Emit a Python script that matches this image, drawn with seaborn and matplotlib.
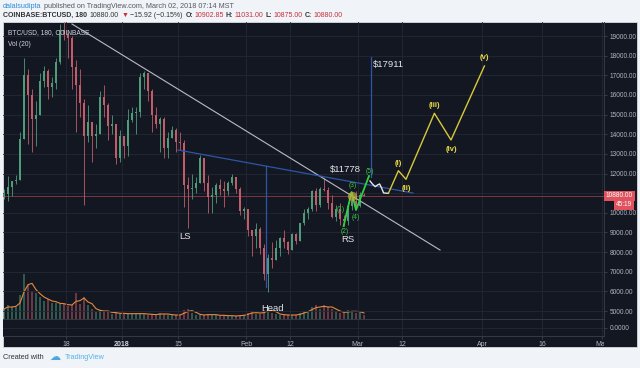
import numpy as np
import pandas as pd
import matplotlib
matplotlib.use("Agg")
import matplotlib.pyplot as plt
import seaborn as sns
from matplotlib.patches import Rectangle
from matplotlib.transforms import Bbox, TransformedBbox

# daily candles, Dec 2 2017 - Mar 2 2018
days = pd.date_range("2017-12-02", "2018-03-02", freq="D")
opens = [10860, 10960, 11290, 11600, 11690, 13760, 17000, 16000, 14800, 15000,
         16700, 17200, 16400, 16600, 17700, 19300, 19100, 18900, 17400, 16500,
         15600, 13900, 14600, 13900, 14000, 15900, 15500, 14400, 14500, 12800,
         13900, 13400, 14700, 15100, 15150, 16900, 17100, 16200, 15000, 14500,
         14800, 13300, 13800, 14200, 13600, 13550, 11400, 11200, 11250, 11500,
         12800, 11500, 10800, 10900, 11400, 11200, 11100, 11500, 11800, 11200,
         10100, 10200, 9100, 8800, 9200, 8200, 6900, 7700, 7600, 8200,
         8700, 8500, 8100, 8900, 8550, 9500, 10000, 10200, 11100, 10400,
         11200, 11150, 10500, 9800, 10200, 9700, 9600, 10350, 10600, 10350,
         10900]
highs = [11190, 11850, 11620, 11900, 14100, 17900, 17300, 16300, 15700, 17100,
         17500, 17300, 16900, 17900, 19600, 19900, 19200, 19000, 17800, 17300,
         15800, 15500, 14600, 14500, 16200, 16500, 15600, 15000, 14500, 14200,
         13900, 15300, 15400, 15400, 17100, 17200, 17100, 16300, 15400, 14900,
         14900, 14100, 14400, 14300, 14100, 13700, 11800, 12000, 11800, 12950,
         12800, 11900, 11300, 11500, 11700, 11600, 11600, 12000, 11800, 11300,
         10300, 10200, 9100, 9500, 9300, 8400, 7900, 8500, 8600, 8750,
         9100, 8550, 8950, 8950, 9500, 10200, 10300, 11150, 11250, 11300,
         11778, 11300, 10900, 10400, 10500, 9900, 10450, 10900, 11100, 11050,
         11031]
lows = [10700, 10600, 10850, 11450, 11690, 13760, 13500, 13100, 13400, 15000,
        16400, 15800, 15900, 16300, 17600, 18800, 17900, 16300, 14100, 14900,
        10400, 13600, 12600, 13300, 14000, 14900, 13700, 14000, 12500, 12600,
        12800, 12900, 14600, 14000, 14900, 16300, 15700, 14100, 14300, 13100,
        12800, 12800, 13800, 13100, 13200, 10300, 9250, 10700, 11000, 11500,
        11100, 10000, 10000, 10500, 10900, 10300, 10900, 11400, 11000, 9900,
        9700, 8800, 7800, 8200, 7900, 6600, 5950, 7200, 7600, 7800,
        8200, 7900, 8100, 8400, 8550, 9400, 9700, 10100, 10100, 10300,
        11100, 10200, 9750, 9600, 9400, 9350, 9400, 10150, 10300, 10300,
        10875]
closes = [10960, 11290, 11600, 11690, 13760, 17000, 16000, 14800, 15000, 16700,
          17200, 16400, 16600, 17700, 19300, 19100, 18900, 17400, 16500, 15600,
          13900, 14600, 13900, 14000, 15900, 15500, 14400, 14500, 12800, 13900,
          13400, 14700, 15100, 15150, 16900, 17100, 16200, 15000, 14500, 14800,
          13300, 13800, 14200, 13600, 13550, 11400, 11200, 11250, 11500, 12800,
          11500, 10800, 10900, 11400, 11200, 11100, 11500, 11800, 11200, 10100,
          10200, 9100, 8800, 9200, 8200, 6900, 7700, 7600, 8200, 8700,
          8500, 8100, 8900, 8550, 9500, 10000, 10200, 11100, 10400, 11200,
          11150, 10500, 9800, 10200, 9700, 9600, 10350, 10600, 10350, 10900,
          10880]
volume = [10, 14, 12, 12, 24, 45, 34, 28, 26, 22, 18, 20, 16, 16, 15, 15, 13, 14,
          26, 15, 22, 14, 10, 7, 9, 8, 7, 5, 7, 5,
          5, 6, 5, 5, 6, 5, 4, 5, 4, 6, 5, 4, 4, 4, 4, 9, 10, 6, 4, 4, 4, 5,
          4, 4, 3, 4, 3, 3, 3, 4, 4,
          6, 8, 5, 5, 9, 11, 6, 5, 4, 4, 4, 4, 4, 6, 8, 8, 12, 14, 10, 14,
          12, 10, 8, 6, 6, 9, 8, 6, 8, 4]

# drawings, x as days after Jan 1 2018
resist_x = [-12.5, 79.5]
resist_y = [19613, 8106]
neck_x = [14.0, 72.75]
neck_y = [13198, 11008]
head_x = [36.0, 36.0]
head_y = [12378, 6200]
target_x = [62.25, 62.25]
target_y = [11823, 17911]
green_x = [55.4, 57.4, 58.5, 61.75]
green_y = [9328, 11059, 10143, 11874]
squig_x = [62.0, 62.6, 63.3, 63.9, 64.4, 64.9, 65.4, 66.6]
squig_y = [11619, 11470, 11330, 11420, 11470, 11260, 11010, 10993]
yellow_x = [66.6, 69.1, 71.0, 78.1, 82.25, 90.6]
yellow_y = [10993, 12144, 11706, 15066, 13707, 17475]
green_labels = ["(1)", "(2)", "(3)", "(4)", "(5)"]
green_lx = [54.75, 55.75, 57.7, 58.5, 62.0]
green_ly = [10193, 9073, 11415, 9786, 12128]
yellow_labels = ["(i)", "(ii)", "(iii)", "(iv)", "(v)"]
yellow_lx = [69.1, 71.0, 78.1, 82.25, 90.6]
yellow_ly = [12520, 11247, 15453, 13233, 17918]

tick_dates = ["2017-12-18", "2018-01-01", "2018-01-15", "2018-02-01", "2018-02-12",
              "2018-03-01", "2018-03-12", "2018-04-01", "2018-04-16", "2018-05-01"]
tick_text = ["18", "2018", "15", "Feb", "12", "Mar", "12", "Apr", "16", "May"]
price_ticks = list(range(5000, 19001, 1000))

jan1 = pd.Timestamp("2018-01-01")


def d(x):
    return jan1 + pd.to_timedelta(np.array(x, dtype=float), unit="D")


plt.rcParams["font.family"] = ["Liberation Sans", "DejaVu Sans"]
BG = "#131722"
GRID = "#242835"
TXT = "#b2b5be"
UP, DOWN = "#4f9c7b", "#c25c69"

fig = plt.figure(figsize=(6.4, 3.68), dpi=100, facecolor="#f0f3f7")
fig.add_artist(Rectangle((3 / 640, 1 - 347 / 368), 634 / 640, 325 / 368,
                         transform=fig.transFigure, facecolor=BG, edgecolor="#d6d9de",
                         lw=0.6, zorder=0))

ax = fig.add_axes([3 / 640, 1 - 319 / 368, 601 / 640, 297 / 368])
pax = fig.add_axes([3 / 640, 1 - 336 / 368, 601 / 640, 17 / 368], sharex=ax)
vax = ax.twinx()
for a in (ax, pax):
    a.set_facecolor(BG)
    for s in a.spines.values():
        s.set_color("#363a45")
        s.set_linewidth(0.7)
    a.spines["top"].set_visible(False)
    a.spines["left"].set_visible(False)
ax.set_zorder(vax.get_zorder() + 1)
ax.patch.set_visible(False)
vax.set_facecolor(BG)
vax.axis("off")

df = pd.DataFrame({"date": days + pd.Timedelta(hours=12), "open": opens, "high": highs,
                   "low": lows, "close": closes, "vol": volume})
cols = np.where(df["close"] >= df["open"], UP, DOWN)

# candles
ax.vlines(df["date"], df["low"], df["high"], color=cols, lw=0.6, zorder=3)
body = np.maximum((df["close"] - df["open"]).abs(), 40)
ax.bar(df["date"], body, bottom=np.minimum(df["open"], df["close"]), width=0.6,
       color=cols, linewidth=0, zorder=3)

# volume + MA
vax.bar(df["date"], df["vol"], width=0.6, color=cols, alpha=0.5, linewidth=0)
df["vol_ma"] = df["vol"].rolling(3, min_periods=1).mean()
sns.lineplot(data=df, x="date", y="vol_ma", ax=vax, color="#e8883a", lw=0.8)
vax.set_ylim(0, 297)

ax.axhline(10880, color="#8c3a46", lw=0.6, zorder=2)

# drawings
sns.lineplot(x=d(resist_x), y=resist_y, ax=ax, color="#b8bbc4", lw=0.8, zorder=4)
sns.lineplot(x=d(neck_x), y=neck_y, ax=ax, color="#2d55a8", lw=0.9, zorder=4)
sns.lineplot(x=d(head_x), y=head_y, ax=ax, color="#2d55a8", lw=0.9, zorder=4,
             estimator=None, sort=False)
sns.lineplot(x=d(target_x), y=target_y, ax=ax, color="#2d55a8", lw=0.9, zorder=4,
             estimator=None, sort=False)
sns.lineplot(x=d(green_x), y=green_y, ax=ax, color="#2fd23f", lw=1.3, zorder=5,
             estimator=None, sort=False)
sns.lineplot(x=d(squig_x), y=squig_y, ax=ax, color="#e6e6e6", lw=1.0, zorder=5,
             estimator=None, sort=False)
sns.lineplot(x=d(yellow_x), y=yellow_y, ax=ax, color="#d8c83a", lw=1.0, zorder=5,
             estimator=None, sort=False)
ax.scatter(d([57.4]), [10855], s=45, color="#c4b03a", alpha=0.7, zorder=6, lw=0)

for s, x, y in zip(green_labels, green_lx, green_ly):
    ax.text(d([x])[0], y, s, color="#3cc84a", fontsize=4.8, ha="center", va="center", zorder=7)
for s, x, y in zip(yellow_labels, yellow_lx, yellow_ly):
    ax.text(d([x])[0], y, s, color="#eadc48", fontsize=5.5, fontweight="bold",
            ha="center", va="center", zorder=7)

big = dict(color="#e3e5ea", fontsize=6.8, va="center", zorder=7)
ax.text(d([62.75])[0], 17576, "$17911", ha="left", **big)
ax.text(d([55.75])[0], 12230, "$11778", ha="center", **big)
ax.text(d([15.75])[0], 8819, "LS", ha="center", **big)
ax.text(d([37.5])[0], 5153, "Head", ha="center", **big)
ax.text(d([56.4])[0], 8666, "RS", ha="center", **big)

# axes
ax.set_xlim(d([-29.75])[0], d([120.5])[0])
ax.set_ylim(4593, 19715)
ax.set_yticks(price_ticks)
ax.yaxis.tick_right()
# 11000 sits under the live price tag
ax.set_yticklabels(["" if v == 11000 else f"{v:.2f}" for v in price_ticks])
ax.tick_params(axis="y", colors="#363a45", labelcolor=TXT, labelsize=4.7, length=2.5, pad=1.5)
ax.tick_params(axis="x", bottom=False, labelbottom=False)
ax.grid(True, color=GRID, lw=0.6)
ax.set_xlabel("")
ax.set_ylabel("")

pax.set_ylim(-1, 1)
pax.set_yticks([0])
pax.yaxis.tick_right()
pax.set_yticklabels(["0.0000"])
pax.tick_params(axis="y", colors="#363a45", labelcolor=TXT, labelsize=4.7, length=2.5, pad=1.5)
pax.set_xticks(pd.to_datetime(tick_dates))
pax.set_xticklabels(tick_text)
pax.tick_params(axis="x", colors="#363a45", labelcolor=TXT, labelsize=5, length=2, pad=1.5)
pax.grid(True, color=GRID, lw=0.6)
clip = TransformedBbox(Bbox([[0, 0], [604 / 640, 1]]), fig.transFigure)
for lab in pax.get_xticklabels():
    lab.set_clip_box(clip)
    lab.set_clip_on(True)
    if lab.get_text() == "2018":
        lab.set_fontweight("bold")
        lab.set_color("#d1d4dc")

# price tag on the axis
fig.text(619.5 / 640, 1 - 195.7 / 368, "10880.00", fontsize=4.7, color="white", ha="center",
         va="center", bbox=dict(boxstyle="square,pad=0.25", fc="#e0525d", ec="none"))
fig.text(624 / 640, 1 - 204.8 / 368, "45:19", fontsize=4.7, color="white", ha="center",
         va="center", bbox=dict(boxstyle="square,pad=0.25", fc="#e0525d", ec="none"))

# in-chart legend
fig.text(8 / 640, 1 - 33 / 368, "BTC/USD, 180, COINBASE", fontsize=4.8, color="#d1d4dc", va="center")
fig.text(8 / 640, 1 - 44 / 368, "Vol (20)", fontsize=4.8, color="#d1d4dc", va="center")

# header and footer
fig.text(3 / 640, 1 - 6 / 368, "dalalsudipta", color="#2f8fd6", fontsize=5.2, va="center")
fig.text(44 / 640, 1 - 6 / 368, "published on TradingView.com, March 02, 2018 07:14 MST",
         color="#555a60", fontsize=5.2, va="center")
line2 = [("COINBASE:BTCUSD, 180", "#333333", "bold"), ("10880.00", "#333333", "normal"),
         ("\u25bc", "#c8303a", "normal"), ("\u221215.92 (\u22120.15%)", "#333333", "normal"),
         ("O:", "#333333", "bold"), ("10902.85", "#c8303a", "normal"),
         ("H:", "#333333", "bold"), ("11031.00", "#c8303a", "normal"),
         ("L:", "#333333", "bold"), ("10875.00", "#c8303a", "normal"),
         ("C:", "#333333", "bold"), ("10880.00", "#c8303a", "normal")]
r = fig.canvas.get_renderer()
x = 3
for s, c, w in line2:
    t = fig.text(x / 640, 1 - 15.5 / 368, s, color=c, fontweight=w, fontsize=5.0, va="center")
    x += t.get_window_extent(renderer=r).width + (1 if s.endswith(":") else 2.5)
fig.text(3 / 640, 1 - 357.5 / 368, "Created with", fontsize=5.2, color="#333333", va="center")
fig.text(49 / 640, 1 - 357 / 368, "\u2601", fontsize=8, color="#4aa6e0", va="center",
         family="DejaVu Sans")
fig.text(65 / 640, 1 - 357.5 / 368, "TradingView", fontsize=5.2, color="#53b4e8", va="center")

fig.savefig("out.png", dpi=100, facecolor=fig.get_facecolor())
